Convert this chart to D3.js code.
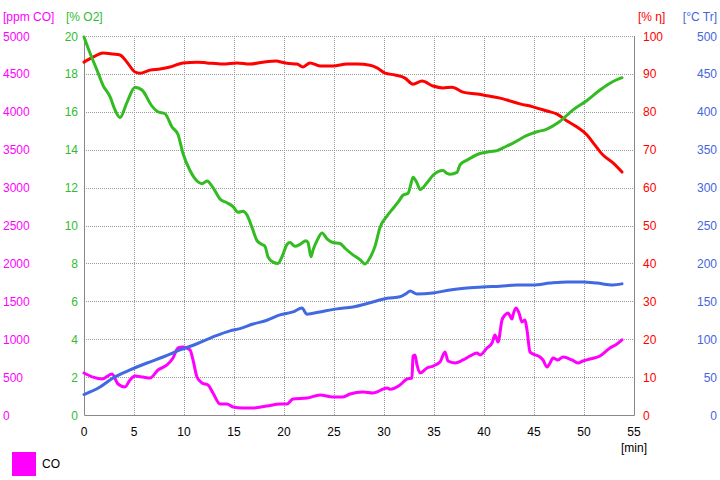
<!DOCTYPE html>
<html><head><meta charset="utf-8">
<script src="https://cdn.jsdelivr.net/npm/d3@7"></script>
<style>body{margin:0;background:#fff}svg{display:block;font-family:"Liberation Sans",Arial,sans-serif}</style>
</head><body><svg id="c" width="720" height="480"></svg>
<script>
const xTicks = [0,5,10,15,20,25,30,35,40,45,50,55];
const coTicks = [0,500,1000,1500,2000,2500,3000,3500,4000,4500,5000];
const o2Ticks = [0,2,4,6,8,10,12,14,16,18,20];
const etaTicks = [0,10,20,30,40,50,60,70,80,90,100];
const tTicks = [0,50,100,150,200,250,300,350,400,450,500];

const o2Time = [0,0.6,1.3,1.9,2.6,3.1,3.6,4.3,5.1,5.8,6.8,7.4,8.1,8.8,9.4,9.9,10.6,11.3,11.8,12.3,12.9,13.6,14.3,14.9,15.4,15.9,16.3,16.8,17.3,17.8,18.1,18.4,18.9,19.4,19.8,20.3,20.6,21.1,21.6,22.2,22.4,22.7,22.9,23.3,23.8,24.3,24.9,25.6,26.1,26.9,27.6,28.1,28.6,29.1,29.6,30.3,30.9,31.5,31.9,32.4,32.8,32.9,33.3,33.6,34.3,34.9,35.9,36.3,36.6,37.3,37.6,38.3,39.6,40.6,41.3,41.9,42.9,44.3,45.3,46.1,47.6,48.9,50.3,51.6,52.9,53.8];
const o2Values = [19.95,19.1,18.2,17.4,16.8,16.1,15.7,16.5,17.3,17.15,16.3,16.0,15.9,15.2,14.8,13.8,12.9,12.35,12.2,12.35,12.0,11.4,11.2,11.0,10.7,10.75,10.55,9.9,9.2,9.0,8.9,8.35,8.07,8.0,8.35,9.0,9.1,8.9,9.0,9.2,9.1,8.35,8.7,9.2,9.6,9.3,9.1,9.05,8.8,8.45,8.2,7.97,8.3,8.9,9.9,10.5,10.9,11.3,11.6,11.7,12.4,12.55,12.25,11.9,12.25,12.65,12.9,12.75,12.7,12.8,13.2,13.45,13.8,13.9,13.95,14.1,14.35,14.75,14.95,15.05,15.5,16.1,16.6,17.15,17.6,17.8];

const etaTime = [0,0.9,1.9,2.9,3.6,4.3,5.1,5.6,6.6,7.6,8.6,9.9,11.3,12.3,13.9,15.3,16.6,17.9,19.3,19.6,20.3,21.3,21.9,22.6,23.6,24.9,26.3,27.3,28.6,29.3,30.1,31.1,32.1,32.9,33.8,34.9,35.9,36.8,37.9,39.3,40.6,41.6,42.3,43.6,44.9,46.3,47.3,48.3,49.3,50.3,51.1,51.9,52.9,53.8];
const etaValues = [93.1,94.4,95.5,95.25,95,93.1,90.5,90.2,91.0,91.3,91.8,92.9,93.1,92.9,92.6,92.9,92.6,93.1,93.4,93.2,92.8,92.6,91.8,92.9,92.1,92.1,92.6,92.6,92.3,91.6,90.2,89.7,88.9,87.3,88.1,86.8,86.3,86.5,85.2,84.7,84.1,83.6,83.1,82.1,81.3,80.2,79.4,77.6,76.0,73.9,71.2,68.6,66.5,64.1];

const tTime = [0,1.6,2.9,4.6,6.3,7.9,9.6,11.3,12.9,14.6,15.6,16.9,18.3,19.6,20.9,21.8,22.3,23.6,25.3,26.9,28.6,30.3,31.6,32.3,32.6,33.3,34.9,36.6,38.3,39.9,41.6,43.3,44.9,46.6,48.3,49.9,51.3,52.9,53.8];
const tValues = [27,37,48.8,59.4,68.6,76.5,85.8,94,103,111,114,120,125,132,136,141,133,136,140,142.5,148,154,156,161,163.6,159.6,161,165,167.5,169,170,171.5,171.5,174,175.5,175.5,174,171.5,173];

const coTime = [0,0.9,1.8,2.8,3.4,4.1,4.6,5.1,5.9,6.6,7.4,8.3,8.9,9.4,9.9,10.6,10.9,11.3,11.8,12.4,12.9,13.6,14.3,14.9,15.9,16.9,18.3,19.6,20.3,20.9,22.3,23.6,24.9,25.9,26.6,27.9,28.9,30.3,30.6,31.6,32.3,32.8,32.9,33.1,33.3,33.6,34.3,34.9,35.6,36.1,36.4,37.1,37.9,38.6,39.3,39.6,40.3,40.8,41.1,41.4,41.8,42.1,42.4,42.8,42.9,43.2,43.5,43.8,44.1,44.3,44.6,44.9,45.6,45.9,46.3,46.6,46.9,47.4,47.9,48.8,49.4,49.9,50.6,51.6,52.6,53.3,53.8];
const coValues = [554,500,475,540,409,370,462,514,500,488,594,660,752,884,897,858,726,501,422,396,290,145,145,106,92,92,119,145,145,211,224,264,237,237,277,303,290,356,340,396,475,488,778,792,660,554,620,646,699,831,712,686,726,778,818,792,884,950,1055,963,1253,1319,1346,1266,1319,1412,1346,1227,1253,1121,831,805,765,726,633,686,752,726,765,726,686,712,739,778,884,937,990];

const svg = d3.select("#c");
const L=84,R=634,T=36,B=415;
const x = d3.scaleLinear().domain([0,55]).range([L,R]);
const yCO = d3.scaleLinear().domain([0,5000]).range([B,T]);
const yO2 = d3.scaleLinear().domain([0,20]).range([B,T]);
const yEta = d3.scaleLinear().domain([0,100]).range([B,T]);
const yT = d3.scaleLinear().domain([0,500]).range([B,T]);

const cMag="#ff00ff", cGreen="#33bb22", cRed="#ff0000", cBlue="#4169e1";
const cGreenTxt="#33bb33", cBlueTxt="#4466dd";

// grid
const g = svg.append("g");
g.selectAll(".vg").data(xTicks.slice(1,-1)).enter().append("line")
 .attr("x1",d=>x(d)+0.5).attr("x2",d=>x(d)+0.5).attr("y1",T).attr("y2",B)
 .attr("stroke","#999").attr("stroke-dasharray","1,1").attr("stroke-width",1);
g.selectAll(".hg").data(o2Ticks.slice(1)).enter().append("line")
 .attr("x1",L).attr("x2",R).attr("y1",d=>Math.round(yO2(d))+0.5).attr("y2",d=>Math.round(yO2(d))+0.5)
 .attr("stroke","#999").attr("stroke-dasharray","1,1").attr("stroke-width",1);
// frame
svg.append("path").attr("d",`M${L+0.5},${T}V${B+0.5}H${R+0.5}V${T}`).attr("fill","none").attr("stroke","#888").attr("stroke-width",1);

// axes labels
const fs=12;
const lab = (sel)=>sel.attr("font-size",fs);
lab(svg.selectAll(".co").data(coTicks).enter().append("text")
 .attr("x",3).attr("y",d=>yCO(d)+4.5).attr("fill",cMag).text(d=>d));
lab(svg.selectAll(".o2").data(o2Ticks).enter().append("text")
 .attr("x",78).attr("text-anchor","end").attr("y",d=>yO2(d)+4.5).attr("fill",cGreenTxt).text(d=>d));
lab(svg.selectAll(".eta").data(etaTicks).enter().append("text")
 .attr("x",643).attr("y",d=>yEta(d)+4.5).attr("fill",cRed).text(d=>d));
lab(svg.selectAll(".tt").data(tTicks).enter().append("text")
 .attr("x",717).attr("text-anchor","end").attr("y",d=>yT(d)+4.5).attr("fill",cBlueTxt).text(d=>d));
lab(svg.selectAll(".xt").data(xTicks).enter().append("text")
 .attr("x",d=>x(d)).attr("text-anchor","middle").attr("y",436).attr("fill","#000").text(d=>d));

lab(svg.append("text").attr("x",3).attr("y",21).attr("fill",cMag).text("[ppm CO]"));
lab(svg.append("text").attr("x",66).attr("y",21).attr("fill",cGreenTxt).text("[% O2]"));
lab(svg.append("text").attr("x",638).attr("y",21).attr("fill",cRed).text("[% η]"));
lab(svg.append("text").attr("x",717).attr("text-anchor","end").attr("y",21).attr("fill",cBlueTxt).text("[°C Tr]"));
lab(svg.append("text").attr("x",634).attr("text-anchor","middle").attr("y",452).attr("fill","#000").text("[min]"));

// legend
svg.append("rect").attr("x",12).attr("y",452).attr("width",24).attr("height",24).attr("fill",cMag);
lab(svg.append("text").attr("x",42).attr("y",468).attr("fill","#000").text("CO"));

function series(times, vals, ys, color){
  const data = times.map((t,i)=>[t,vals[i]]);
  svg.append("path").datum(data)
   .attr("fill","none").attr("stroke",color).attr("stroke-width",3)
   .attr("stroke-linejoin","round").attr("stroke-linecap","round")
   .attr("d", d3.line().x(d=>x(d[0])).y(d=>ys(d[1])).curve(d3.curveMonotoneX));
}
series(etaTime, etaValues, yEta, cRed);
series(coTime, coValues, yCO, cMag);
series(tTime, tValues, yT, cBlue);
series(o2Time, o2Values, yO2, cGreen);
</script></body></html>
